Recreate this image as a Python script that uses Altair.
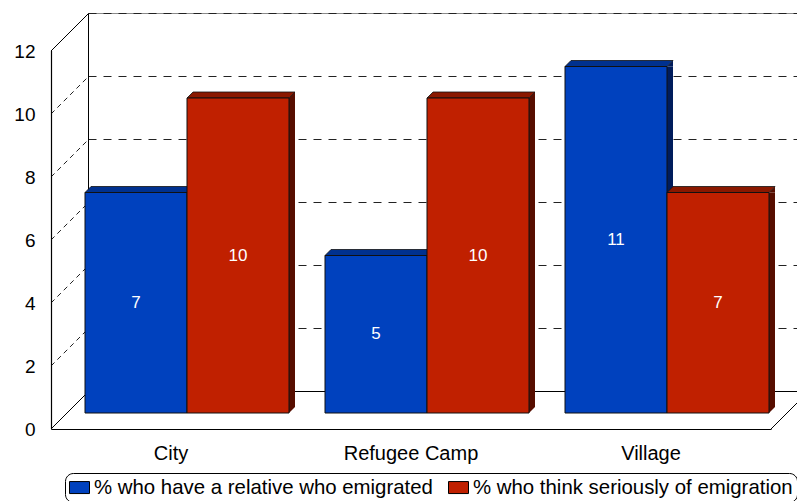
import altair as alt
import pandas as pd

# ---- data -------------------------------------------------------------
categories = ["City", "Refugee Camp", "Village"]
series_names = ["% who have a relative who emigrated",
                "% who think seriously of emigration"]
relative_emigrated = [7, 5, 11]
think_emigration = [10, 10, 7]
y_ticks = [0, 2, 4, 6, 8, 10, 12]

# ---- styling ------------------------------------------------------------
front_colors = ["#0041BE", "#C02000"]
top_colors = ["#00318F", "#8A1800"]
side_colors = ["#001C5C", "#570E00"]
FONT = "Liberation Sans"

PLOT_W, PLOT_H = 720, 378
STEP = PLOT_W / len(categories)   # width of one category band
WALL = 37.5                        # depth of the box (px)
BAR_Z = 16                         # depth at which bar fronts stand
BAR_T = 6                          # thickness of each bar
BAR_W = 0.425 * STEP               # width of each bar
GAP = (STEP - 2 * BAR_W) / 2       # space at each side of a bar pair

bars = pd.DataFrame({
    "category": categories * 2,
    "series": [series_names[0]] * len(categories) + [series_names[1]] * len(categories),
    "value": relative_emigrated + think_emigration,
})
levels = pd.DataFrame({"v": y_ticks})

y_scale = alt.Scale(domain=[0, 12], nice=False, zero=True)
# one shared y axis (identical on every layer so that they merge into one)
y_axis = alt.Axis(orient="left", values=y_ticks, ticks=False, grid=False,
                  domain=True, domainColor="#000", domainWidth=1,
                  domainOpacity=1, zindex=1,
                  labelFont=FONT, labelFontSize=19,
                  labelColor="#000", labelPadding=16, title=None)
x_axis = alt.Axis(orient="bottom", ticks=False, grid=False, domain=True,
                  domainColor="#000", domainWidth=1, labelFont=FONT,
                  labelFontSize=20, labelColor="#000", labelPadding=14,
                  labelAngle=0, title=None)
cat_scale = alt.Scale(type="band", domain=categories, paddingInner=0, paddingOuter=0)
edge_scale = alt.Scale(domain=[0, len(categories)], nice=False, zero=False)


def yq(field):
    return alt.Y(field, scale=y_scale, axis=y_axis)


def xc(axis=None):
    return alt.X("category:N", scale=cat_scale, axis=axis)


# ---- the box: back wall, left wall and floor ---------------------------
box = alt.Chart(levels).transform_calculate(e0="0", e1=str(len(categories)), top="12")
xe0 = alt.X("e0:Q", scale=edge_scale, axis=None)
xe1 = alt.X("e1:Q", scale=edge_scale, axis=None)

back_grid = box.transform_filter("datum.v > 0 && datum.v < 12").mark_rule(
    color="#222", strokeWidth=1, strokeDash=[8, 7],
    xOffset=WALL, x2Offset=WALL, yOffset=-WALL,
).encode(x=xe0, x2="e1:Q", y=yq("v:Q"))

back_top = box.transform_filter("datum.v == 12").mark_rule(
    color="#8a8a8a", strokeWidth=1,
    xOffset=WALL, x2Offset=WALL, yOffset=-WALL,
).encode(x=xe0, x2="e1:Q", y=yq("v:Q"))

back_top_dash = box.transform_filter("datum.v == 12").mark_rule(
    color="#222", strokeWidth=1, strokeDash=[8, 7],
    xOffset=WALL, x2Offset=WALL, yOffset=-WALL,
).encode(x=xe0, x2="e1:Q", y=yq("v:Q"))

back_floor = box.transform_filter("datum.v == 0").mark_rule(
    color="#000", strokeWidth=1,
    xOffset=WALL, x2Offset=WALL, yOffset=-WALL,
).encode(x=xe0, x2="e1:Q", y=yq("v:Q"))

back_edge = box.transform_filter("datum.v == 0").mark_rule(
    color="#000", strokeWidth=1,
    xOffset=WALL, yOffset=-WALL, y2Offset=-WALL,
).encode(x=xe0, y=yq("v:Q"), y2="top:Q")

# front edge of the left wall: one straight stroke up from the zero level,
# as tall as the value axis
front_edge = box.transform_filter("datum.v == 0").mark_point(
    shape=f"M0.5,0L0.5,{-PLOT_H}", size=4, filled=False, color="#000",
    strokeWidth=1.2, opacity=1,
).encode(x=xe0, y=yq("v:Q"))

diag = f"M0,0L{WALL},{-WALL}"
side_grid = box.transform_filter("datum.v > 0 && datum.v < 12").mark_point(
    shape=diag, size=4, filled=False, color="#222", strokeWidth=1,
    strokeDash=[5, 4], opacity=1,
).encode(x=xe0, y=yq("v:Q"))

side_edges = box.transform_filter("datum.v == 0 || datum.v == 12").mark_point(
    shape=diag, size=4, filled=False, color="#000", strokeWidth=1, opacity=1,
).encode(x=xe0, y=yq("v:Q"))

floor_right = box.transform_filter("datum.v == 0").mark_point(
    shape=diag, size=4, filled=False, color="#000", strokeWidth=1, opacity=1,
).encode(x=xe1, y=yq("v:Q"))

frame_layers = [back_grid, back_top, back_top_dash, back_floor, back_edge,
                side_grid, side_edges, floor_right, front_edge]


# ---- 3-D bars -----------------------------------------------------------
def series_layers(i):
    base = alt.Chart(bars).transform_filter(
        alt.datum.series == series_names[i]
    ).transform_calculate(base="0", mid="datum.value / 2")

    left = GAP + BAR_Z + i * BAR_W - STEP / 2
    right = left + BAR_W
    center = left + BAR_W / 2
    first = i == 0

    side = base.mark_bar(
        width=BAR_T, xOffset=right + BAR_T / 2,
        yOffset=-BAR_Z, y2Offset=-BAR_Z - BAR_T,
        color=side_colors[i], opacity=1, strokeWidth=0,
    ).encode(x=xc(), y=yq("value:Q"), y2="base:Q")

    side_top = base.mark_point(
        shape=f"M0,0L{BAR_T},{-BAR_T}L{BAR_T},0Z", size=4, filled=True,
        color=side_colors[i], opacity=1, strokeWidth=0,
        xOffset=right, yOffset=-BAR_Z,
    ).encode(x=xc(), y=yq("value:Q"))

    side_bottom = base.mark_point(
        shape=f"M0,{-BAR_T}L0,0L{BAR_T},{-BAR_T}Z", size=4, filled=True,
        color=side_colors[i], opacity=1, strokeWidth=0,
        xOffset=right, yOffset=-BAR_Z,
    ).encode(x=xc(), y=yq("base:Q"))

    top = base.mark_point(
        shape=f"M{-BAR_W},0L0,0L{BAR_T},{-BAR_T}L{BAR_T - BAR_W},{-BAR_T}Z",
        size=4, filled=True, fill=top_colors[i], stroke="#111",
        strokeWidth=0.8, opacity=1,
        xOffset=right, yOffset=-BAR_Z,
    ).encode(x=xc(), y=yq("value:Q"))

    legend = alt.Legend(
        title=None, orient="none", legendX=14, legendY=422,
        direction="horizontal",
        symbolType="M-1,-0.6H1V0.6H-1Z", symbolSize=400,
        symbolStrokeColor="#000", symbolStrokeWidth=1, symbolOpacity=1,
        labelFont=FONT, labelFontSize=20.4, labelColor="#000",
        labelOffset=4, labelLimit=500, columnPadding=13, padding=4,
        strokeColor="#000", cornerRadius=8, fillColor="#ffffff",
    ) if first else None

    front = base.mark_bar(
        width=BAR_W, xOffset=center, yOffset=-BAR_Z, y2Offset=-BAR_Z,
        stroke="#111", strokeWidth=1, opacity=1,
    ).encode(
        x=xc(x_axis if first else None),
        y=yq("value:Q"),
        y2="base:Q",
        color=alt.Color("series:N",
                        scale=alt.Scale(domain=series_names, range=front_colors),
                        legend=legend),
    )

    label = base.mark_text(
        color="white", font=FONT, fontSize=17, baseline="middle",
        align="center", xOffset=center, yOffset=-BAR_Z,
    ).encode(x=xc(), y=yq("mid:Q"), text="value:Q")

    return [side, side_top, side_bottom, top, front, label]


chart = alt.layer(
    *frame_layers, *series_layers(0), *series_layers(1)
).resolve_scale(x="independent").properties(
    width=PLOT_W, height=PLOT_H,
    padding={"left": 51, "top": 51, "right": 26, "bottom": 72},
    autosize=alt.AutoSizeParams(type="none"),
    background="#ffffff",
).configure_view(stroke=None)

chart.save("out.html", embed_options={"renderer": "svg", "actions": False})
